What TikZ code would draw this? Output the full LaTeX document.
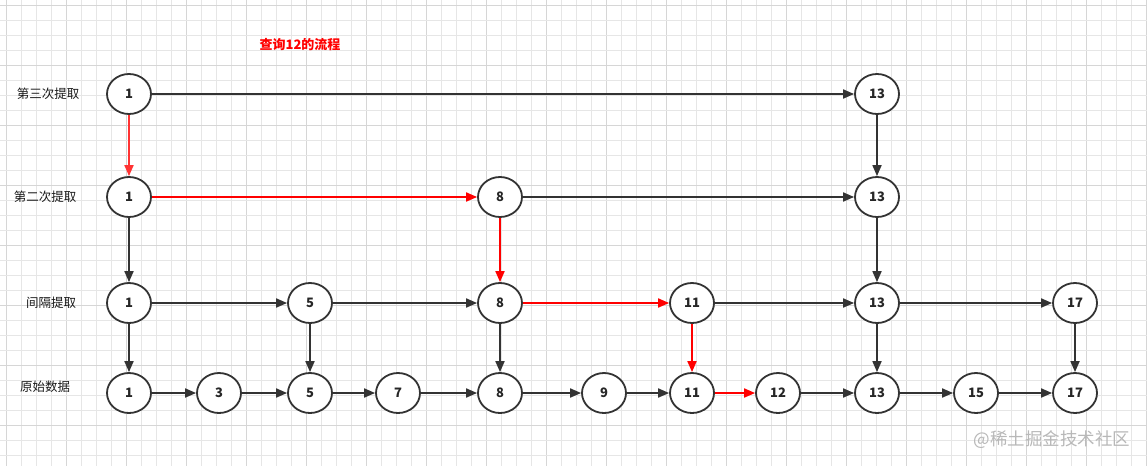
\documentclass[tikz,border=0pt]{standalone}
\usepackage{fontspec}
\setmainfont{Noto Sans CJK SC}
\newfontfamily\cjk{Noto Sans CJK SC}
\usetikzlibrary{shapes.geometric,arrows.meta}
\definecolor{gridminor}{HTML}{E6E6E6}
\definecolor{gridmajor}{HTML}{D6D6D6}
\definecolor{edgegray}{HTML}{333333}
\definecolor{hotred}{HTML}{FF0000}
\definecolor{softred}{HTML}{FF3333}
\definecolor{wmgray}{HTML}{B8B8B8}
\tikzset{
  elem/.style={ellipse,draw=edgegray,line width=1.8pt,fill=white,minimum width=44pt,minimum height=40pt,inner sep=0pt,font=\cjk\bfseries\fontsize{13}{15}\selectfont,text=black!85},
  rowlabel/.style={font=\cjk\fontsize{12.5}{15}\selectfont,text=black!90},
  link/.style={draw=edgegray,line width=1.8pt,-{Triangle[length=11pt,width=9pt]}},
  hotlink/.style={link,draw=hotred,fill=hotred},
}
\begin{document}
\begin{tikzpicture}[x=1pt,y=-1pt]
\useasboundingbox (0,0) rectangle (1147,466);
\fill[white] (0,0) rectangle (1147,466);
% grid
\foreach \k in {0,...,76} {
  \pgfmathsetmacro\gx{6.7+15*\k}
  \pgfmathtruncatemacro\m{mod(\k,4)}
  \ifnum\m=0 \draw[gridmajor,line width=0.9pt] (\gx,0) -- (\gx,466);
  \else \draw[gridminor,line width=0.8pt] (\gx,0) -- (\gx,466); \fi
}
\foreach \k in {0,...,30} {
  \pgfmathsetmacro\gy{5+15*\k}
  \pgfmathtruncatemacro\m{mod(\k,4)}
  \ifnum\m=0 \draw[gridmajor,line width=0.9pt] (0,\gy) -- (1147,\gy);
  \else \draw[gridminor,line width=0.8pt] (0,\gy) -- (1147,\gy); \fi
}
% title and labels
\node[font=\cjk\bfseries\fontsize{13}{15}\selectfont,text=hotred] (title) at (300,45) {查询12的流程};
\node[rowlabel] (l1) at (48,94) {第三次提取};
\node[rowlabel] (l2) at (45,197) {第二次提取};
\node[rowlabel] (l3) at (51,303) {间隔提取};
\node[rowlabel] (l4) at (45,387) {原始数据};
\node[font=\cjk\fontsize{17.5}{20}\selectfont,text=wmgray] (wm) at (1052,440) {@稀土掘金技术社区};
% row 1
\node[elem] (a1) at (129,94) {1};
\node[elem] (a13) at (877,94) {13};
% row 2
\node[elem] (b1) at (129,197) {1};
\node[elem] (b8) at (500,197) {8};
\node[elem] (b13) at (877,197) {13};
% row 3
\node[elem] (c1) at (129,303) {1};
\node[elem] (c5) at (310,303) {5};
\node[elem] (c8) at (500,303) {8};
\node[elem] (c11) at (692,303) {11};
\node[elem] (c13) at (877,303) {13};
\node[elem] (c17) at (1075,303) {17};
% row 4
\node[elem] (d1) at (129,393) {1};
\node[elem] (d3) at (219,393) {3};
\node[elem] (d5) at (310,393) {5};
\node[elem] (d7) at (398,393) {7};
\node[elem] (d8) at (500,393) {8};
\node[elem] (d9) at (604,393) {9};
\node[elem] (d11) at (692,393) {11};
\node[elem] (d12) at (778,393) {12};
\node[elem] (d13) at (877,393) {13};
\node[elem] (d15) at (976,393) {15};
\node[elem] (d17) at (1075,393) {17};
% horizontal links
\draw[link] (a1) -- (a13);
\draw[hotlink] (b1) -- (b8);
\draw[link] (b8) -- (b13);
\draw[link] (c1) -- (c5);
\draw[link] (c5) -- (c8);
\draw[hotlink] (c8) -- (c11);
\draw[link] (c11) -- (c13);
\draw[link] (c13) -- (c17);
\draw[link] (d1) -- (d3);
\draw[link] (d3) -- (d5);
\draw[link] (d5) -- (d7);
\draw[link] (d7) -- (d8);
\draw[link] (d8) -- (d9);
\draw[link] (d9) -- (d11);
\draw[hotlink] (d11) -- (d12);
\draw[link] (d12) -- (d13);
\draw[link] (d13) -- (d15);
\draw[link] (d15) -- (d17);
% vertical links
\draw[link,draw=softred,fill=softred] (a1) -- (b1);
\draw[link] (a13) -- (b13);
\draw[link] (b1) -- (c1);
\draw[hotlink] (b8) -- (c8);
\draw[link] (b13) -- (c13);
\draw[link] (c1) -- (d1);
\draw[link] (c5) -- (d5);
\draw[link] (c8) -- (d8);
\draw[hotlink] (c11) -- (d11);
\draw[link] (c13) -- (d13);
\draw[link] (c17) -- (d17);
\end{tikzpicture}
\end{document}
